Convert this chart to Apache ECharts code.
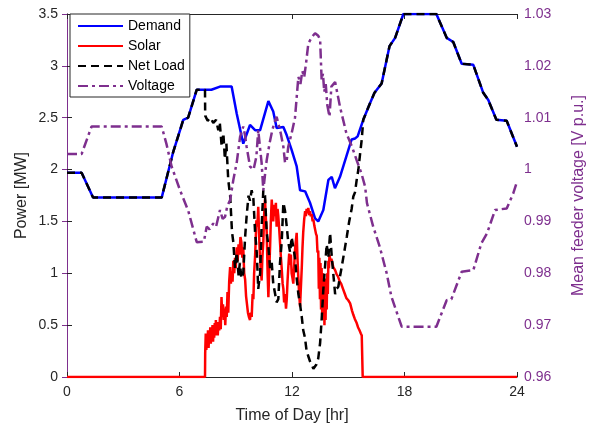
<!DOCTYPE html>
<html>
<head>
<meta charset="utf-8">
<script src="https://cdn.jsdelivr.net/npm/echarts@6/dist/echarts.min.js"></script>
<style>
  html, body { margin: 0; padding: 0; background: #fff; }
  #chart { width: 590px; height: 431px; }
</style>
</head>
<body>
<div id="chart"></div>
<script>
// hours of day and values
const demandHours = [0, 0.78, 1.39, 5.05, 5.65, 6.2, 6.46, 6.92, 7.7, 8.16, 8.78, 9.05, 9.4, 9.76, 10.03, 10.3, 10.74, 11.0, 11.18, 11.54, 11.72, 11.98, 12.25, 12.43, 12.7, 12.96, 13.23, 13.4, 13.67, 13.94, 14.12, 14.29, 14.56, 15.18, 15.36, 15.5, 15.8, 16.16, 16.4, 16.78, 17.2, 17.5, 17.94, 19.7, 20.25, 20.6, 21.05, 21.67, 22.2, 22.47, 22.9, 23.45, 24]
const demand = [1.97, 1.97, 1.73, 1.73, 2.16, 2.48, 2.50, 2.77, 2.77, 2.80, 2.80, 2.54, 2.25, 2.43, 2.38, 2.38, 2.66, 2.56, 2.40, 2.41, 2.33, 2.19, 2.03, 1.80, 1.79, 1.68, 1.53, 1.50, 1.61, 1.90, 1.93, 1.82, 1.93, 2.29, 2.30, 2.32, 2.48, 2.64, 2.74, 2.83, 3.19, 3.27, 3.50, 3.50, 3.27, 3.23, 3.02, 3.01, 2.74, 2.67, 2.48, 2.47, 2.22]

const solarHours = [0, 7.36, 7.37, 7.40, 7.43, 7.46, 7.49, 7.52, 7.55, 7.58, 7.61, 7.64, 7.67, 7.70, 7.73, 7.76, 7.79, 7.82, 7.85, 7.88, 7.91, 7.94, 7.97, 8.0, 8.04, 8.08, 8.12, 8.16, 8.2, 8.24, 8.28, 8.32, 8.36, 8.4, 8.44, 8.48, 8.52, 8.56, 8.6, 8.65, 8.7, 8.74, 8.78, 8.83, 8.87, 8.92, 8.96, 9.0, 9.05, 9.1, 9.15, 9.2, 9.25, 9.3, 9.35, 9.4, 9.45, 9.5, 9.55, 9.6, 9.65, 9.7, 9.76, 9.8, 9.85, 9.9, 9.94, 9.98, 10.03, 10.07, 10.1, 10.15, 10.2, 10.24, 10.28, 10.33, 10.38, 10.42, 10.47, 10.51, 10.56, 10.6, 10.65, 10.7, 10.74, 10.78, 10.83, 10.87, 10.92, 10.96, 11.0, 11.05, 11.1, 11.14, 11.18, 11.23, 11.27, 11.32, 11.36, 11.41, 11.45, 11.5, 11.54, 11.58, 11.63, 11.68, 11.72, 11.76, 11.8, 11.85, 11.9, 11.94, 11.98, 12.03, 12.07, 12.11, 12.16, 12.2, 12.25, 12.29, 12.34, 12.38, 12.43, 12.47, 12.52, 12.56, 12.6, 12.65, 12.7, 12.74, 12.78, 12.83, 12.87, 12.92, 12.96, 13.0, 13.05, 13.1, 13.14, 13.19, 13.23, 13.28, 13.32, 13.36, 13.4, 13.43, 13.46, 13.49, 13.52, 13.55, 13.58, 13.61, 13.64, 13.67, 13.7, 13.73, 13.76, 13.79, 13.82, 13.85, 13.88, 13.91, 13.94, 13.97, 14.0, 14.05, 14.1, 14.2, 14.3, 14.38, 14.45, 14.55, 14.62, 14.7, 14.75, 14.82, 14.9, 15.0, 15.1, 15.2, 15.27, 15.35, 15.45, 15.52, 15.6, 15.67, 15.72, 15.77, 24]
const solar = [0, 0, 0.23, 0.42, 0.26, 0.38, 0.30, 0.45, 0.28, 0.40, 0.33, 0.48, 0.32, 0.44, 0.36, 0.50, 0.34, 0.47, 0.38, 0.52, 0.40, 0.55, 0.42, 0.50, 0.40, 0.53, 0.45, 0.58, 0.46, 0.77, 0.58, 0.70, 0.55, 0.66, 0.50, 0.68, 0.58, 0.82, 0.62, 0.92, 1.06, 0.90, 1.02, 0.92, 1.12, 1.00, 1.15, 1.05, 1.25, 1.12, 1.28, 1.18, 1.35, 1.30, 1.15, 1.25, 1.00, 0.94, 0.78, 0.70, 0.62, 0.58, 0.55, 0.62, 0.58, 0.80, 0.75, 1.00, 1.16, 1.35, 1.51, 1.45, 1.64, 1.40, 1.20, 1.05, 0.93, 1.15, 1.30, 1.55, 1.71, 1.55, 1.40, 1.00, 0.77, 1.00, 1.25, 1.50, 1.71, 1.58, 1.50, 1.66, 1.55, 1.68, 1.45, 1.62, 1.55, 1.42, 1.30, 1.15, 1.05, 0.90, 0.85, 0.72, 0.80, 0.66, 0.75, 0.92, 1.05, 1.19, 1.08, 1.18, 1.00, 0.95, 0.90, 1.05, 1.22, 1.30, 1.39, 1.15, 0.95, 0.80, 0.68, 0.85, 1.05, 1.25, 1.40, 1.52, 1.60, 1.55, 1.62, 1.58, 1.63, 1.56, 1.60, 1.55, 1.57, 1.50, 1.52, 1.46, 1.45, 1.38, 1.36, 1.20, 1.22, 0.85, 1.15, 0.75, 1.10, 0.65, 1.05, 0.60, 1.00, 0.55, 0.95, 0.50, 0.85, 0.55, 0.95, 0.65, 1.00, 0.80, 1.12, 1.05, 1.18, 1.12, 1.14, 1.06, 1.03, 0.99, 0.97, 0.92, 0.90, 0.86, 0.85, 0.80, 0.76, 0.74, 0.71, 0.64, 0.60, 0.56, 0.52, 0.48, 0.45, 0.42, 0.40, 0, 0]

const netHours = [0, 0.78, 1.39, 5.05, 5.65, 6.2, 6.46, 6.92, 7.36, 7.37, 7.5, 7.65, 7.8, 7.95, 8.07, 8.15, 8.25, 8.34, 8.42, 8.5, 8.6, 8.7, 8.8, 8.87, 8.96, 9.05, 9.15, 9.22, 9.3, 9.4, 9.5, 9.58, 9.68, 9.76, 9.85, 9.94, 10.03, 10.12, 10.2, 10.3, 10.38, 10.47, 10.56, 10.65, 10.74, 10.83, 10.92, 11.0, 11.1, 11.18, 11.27, 11.36, 11.45, 11.54, 11.63, 11.72, 11.8, 11.9, 11.98, 12.07, 12.16, 12.25, 12.34, 12.43, 12.52, 12.6, 12.69, 12.78, 12.87, 12.96, 13.05, 13.14, 13.23, 13.3, 13.4, 13.5, 13.58, 13.67, 13.76, 13.85, 13.94, 14.03, 14.12, 14.2, 14.3, 14.38, 14.47, 14.56, 14.65, 14.8, 14.92, 15.05, 15.18, 15.27, 15.36, 15.45, 15.54, 15.63, 15.72, 15.8, 16.16, 16.4, 16.78, 17.2, 17.5, 17.94, 19.7, 20.25, 20.6, 21.05, 21.67, 22.2, 22.47, 22.9, 23.45, 24]
const netLoad = [1.97, 1.97, 1.73, 1.73, 2.16, 2.48, 2.50, 2.77, 2.77, 2.52, 2.47, 2.50, 2.45, 2.48, 2.38, 2.45, 2.22, 2.35, 2.10, 2.25, 1.90, 1.75, 1.40, 1.30, 1.05, 1.20, 0.98, 1.10, 0.95, 1.00, 1.35, 1.55, 1.75, 1.70, 1.80, 1.72, 1.40, 1.20, 0.85, 1.00, 1.45, 1.80, 1.75, 1.40, 1.26, 1.05, 1.10, 0.90, 0.80, 0.72, 0.75, 1.10, 1.30, 1.68, 1.60, 1.45, 1.30, 1.20, 1.35, 1.25, 1.15, 0.95, 0.80, 0.70, 0.58, 0.45, 0.38, 0.25, 0.20, 0.15, 0.12, 0.08, 0.07, 0.12, 0.18, 0.33, 0.55, 0.84, 1.06, 1.28, 1.15, 1.39, 1.16, 1.00, 0.80, 0.85, 0.87, 0.97, 1.06, 1.22, 1.35, 1.50, 1.62, 1.74, 1.78, 1.90, 2.00, 2.15, 2.29, 2.48, 2.64, 2.74, 2.83, 3.19, 3.27, 3.50, 3.50, 3.27, 3.23, 3.02, 3.01, 2.74, 2.67, 2.48, 2.47, 2.22]

const voltHours = [0, 0.78, 1.31, 5.05, 5.3, 5.58, 6.03, 6.47, 6.92, 7.3, 7.45, 7.6, 7.8, 7.95, 8.16, 8.3, 8.43, 8.55, 8.7, 8.87, 9.05, 9.23, 9.4, 9.5, 9.58, 9.76, 9.95, 10.1, 10.2, 10.3, 10.38, 10.47, 10.56, 10.65, 10.8, 10.92, 11.05, 11.18, 11.27, 11.4, 11.54, 11.63, 11.72, 11.8, 11.98, 12.16, 12.34, 12.45, 12.55, 12.65, 12.75, 12.87, 13.05, 13.23, 13.4, 13.5, 13.58, 13.65, 13.72, 13.8, 13.88, 14.0, 14.1, 14.3, 14.56, 14.9, 15.2, 15.45, 15.7, 15.9, 16.0, 16.33, 16.68, 17.05, 17.3, 17.85, 19.7, 20.25, 20.5, 21.05, 21.67, 22.1, 22.4, 22.83, 23.45, 23.8, 24]
const voltage = [1.003, 1.003, 1.0083, 1.0083, 1.005, 1.0006, 0.996, 0.992, 0.986, 0.9861, 0.989, 0.9885, 0.9896, 0.989, 0.9922, 0.9905, 0.9909, 0.993, 0.9941, 0.998, 1.0013, 1.0063, 1.0083, 1.0065, 1.0044, 1.0006, 1.0, 1.0025, 1.0076, 1.004, 1.0013, 0.996, 0.999, 1.0018, 1.005, 1.0071, 1.009, 1.0102, 1.0105, 1.007, 1.0044, 1.0013, 1.0018, 1.0044, 1.007, 1.01, 1.0179, 1.0165, 1.019, 1.0178, 1.0205, 1.0243, 1.0255, 1.0263, 1.0258, 1.025, 1.0173, 1.0185, 1.015, 1.0165, 1.0125, 1.0102, 1.016, 1.0169, 1.0121, 1.007, 1.0044, 1.0018, 0.9993, 0.9967, 0.9935, 0.989, 0.9851, 0.98, 0.9755, 0.9697, 0.9697, 0.9748, 0.975, 0.9803, 0.9806, 0.9858, 0.9877, 0.9922, 0.9925, 0.9954, 0.9977]

const purple = '#7E2F8E'
const axisGrey = '#262626'
const font = 'Liberation Sans, Arial, Helvetica, sans-serif'

function pairs(xs, ys) {
  return xs.map((x, i) => [x, ys[i]])
}

const chart = echarts.init(document.getElementById('chart'))
chart.setOption({
  animation: false,
  textStyle: { fontFamily: font },
  grid: { left: 67, right: 73, top: 14, bottom: 54, outerBoundsMode: 'none' },
  legend: {
    orient: 'vertical',
    left: 70,
    top: 14,
    itemWidth: 45,
    itemHeight: 14,
    itemGap: 6,
    padding: [5, 5, 4, 7],
    borderColor: axisGrey,
    borderWidth: 1,
    borderRadius: 0,
    backgroundColor: '#fff',
    itemStyle: { opacity: 0 },
    textStyle: { fontSize: 14, color: '#000', fontFamily: font },
    data: ['Demand', 'Solar', 'Net Load', 'Voltage']
  },
  xAxis: [{
    type: 'value',
    min: 0,
    max: 24,
    interval: 6,
    name: 'Time of Day [hr]',
    nameLocation: 'middle',
    nameGap: 31,
    nameTextStyle: { fontSize: 16, color: axisGrey },
    axisLine: { lineStyle: { color: axisGrey } },
    axisTick: { inside: true, length: 5, lineStyle: { color: axisGrey } },
    axisLabel: { fontSize: 14, color: axisGrey, margin: 8 },
    splitLine: { show: false }
  }, {
    type: 'value',
    position: 'top',
    min: 0,
    max: 24,
    interval: 6,
    axisLine: { lineStyle: { color: axisGrey } },
    axisTick: { inside: true, length: 5, lineStyle: { color: axisGrey } },
    axisLabel: { show: false },
    splitLine: { show: false }
  }],
  yAxis: [{
    type: 'value',
    min: 0,
    max: 3.5,
    interval: 0.5,
    name: 'Power [MW]',
    nameLocation: 'middle',
    nameGap: 37,
    nameMoveOverlap: false,
    nameTextStyle: { fontSize: 16, color: axisGrey },
    axisLine: { show: true, lineStyle: { color: axisGrey } },
    axisTick: { show: true, inside: true, length: 5, lineStyle: { color: axisGrey } },
    axisLabel: { fontSize: 14, color: axisGrey, margin: 9 },
    splitLine: { show: false }
  }, {
    type: 'value',
    position: 'right',
    min: 0.96,
    max: 1.03,
    interval: 0.01,
    name: 'Mean feeder voltage [V p.u.]',
    nameLocation: 'middle',
    nameGap: 54,
    nameRotate: 90,
    nameTextStyle: { fontSize: 16, color: purple },
    axisLine: { show: true, lineStyle: { color: purple } },
    axisTick: { show: true, inside: true, length: 5, lineStyle: { color: purple } },
    axisLabel: {
      fontSize: 14,
      color: purple,
      margin: 7,
      formatter: v => String(parseFloat(v.toFixed(2)))
    },
    splitLine: { show: false }
  }],
  series: [{
    name: 'Demand',
    type: 'line',
    data: pairs(demandHours, demand),
    showSymbol: false,
    symbol: 'none',
    color: '#0000FF',
    lineStyle: { width: 2.5 },
    z: 2
  }, {
    name: 'Solar',
    type: 'line',
    data: pairs(solarHours, solar),
    showSymbol: false,
    symbol: 'none',
    color: '#FF0000',
    lineStyle: { width: 2.5 },
    z: 3
  }, {
    name: 'Net Load',
    type: 'line',
    data: pairs(netHours, netLoad),
    showSymbol: false,
    symbol: 'none',
    color: '#000000',
    lineStyle: { width: 2.5, type: [8, 5] },
    z: 4
  }, {
    name: 'Voltage',
    type: 'line',
    yAxisIndex: 1,
    data: pairs(voltHours, voltage),
    showSymbol: false,
    symbol: 'none',
    color: purple,
    lineStyle: { width: 2.5, type: [10, 4, 3, 4] },
    z: 5
  }]
})
</script>
</body>
</html>
